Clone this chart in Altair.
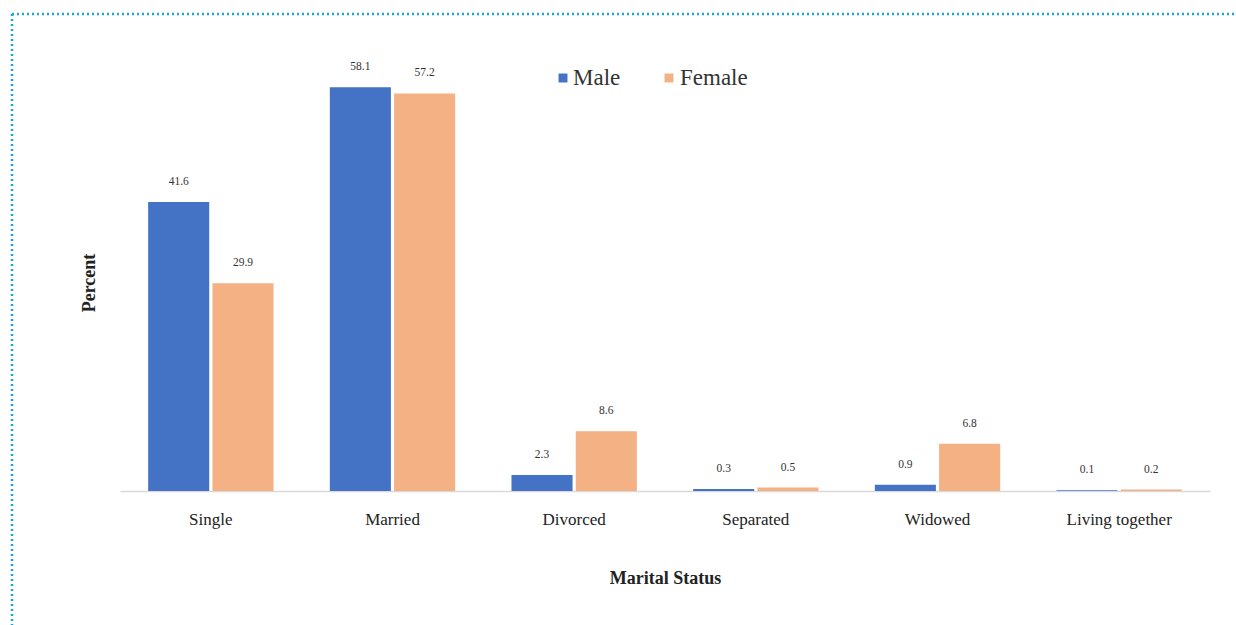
import altair as alt
import pandas as pd

categories = ["Single", "Married", "Divorced", "Separated", "Widowed", "Living together"]
male = [41.6, 58.1, 2.3, 0.3, 0.9, 0.1]
female = [29.9, 57.2, 8.6, 0.5, 6.8, 0.2]
groups = ["Male", "Female"]
colors = ["#4472C4", "#F4B183"]

rows = []
for c, m, f in zip(categories, male, female):
    rows.append({"status": c, "sex": "Male", "value": m})
    rows.append({"status": c, "sex": "Female", "value": f})
df = pd.DataFrame(rows)

FONT = "Liberation Serif"

x_enc = alt.X("status:N", sort=categories, title="Marital Status",
              scale=alt.Scale(paddingInner=0.31, paddingOuter=0.155),
              axis=alt.Axis(labelAngle=0, labelFontSize=17, labelFont=FONT, labelColor="#222",
                            labelPadding=20, titleFontSize=18, titleFont=FONT, titleFontWeight="bold",
                            titleColor="#222", titlePadding=42, ticks=False,
                            domainColor="#d9d9d9", domainWidth=1.5))
xo = alt.XOffset("sex:N", sort=groups, scale=alt.Scale(paddingInner=0.05))
y_enc = alt.Y("value:Q", scale=alt.Scale(domain=[0, 60], nice=False),
              axis=alt.Axis(title="Percent", labels=False, ticks=False, domain=False, grid=False,
                            titleFont=FONT, titleFontSize=18, titleFontWeight="bold",
                            titleColor="#222", titlePadding=22))

base = alt.Chart(df)
bars = base.mark_bar().encode(
    x=x_enc, xOffset=xo, y=y_enc,
    color=alt.Color("sex:N", sort=groups, scale=alt.Scale(domain=groups, range=colors),
                    legend=None),
)
labels = base.mark_text(baseline="bottom", dy=-15, font=FONT, fontSize=11.5, color="#333").encode(
    x=alt.X("status:N", sort=categories), xOffset=xo, y="value:Q",
    text=alt.Text("value:Q", format=".1f"),
)

# manual legend (serif labels), one row each so nothing is overdrawn
legend_layers = []
legend_pos = [(443, 453), (549, 560)]
for g, col, (sx, tx) in zip(groups, colors, legend_pos):
    one = pd.DataFrame({"g": [g]})
    legend_layers.append(alt.Chart(one).mark_square(size=80, color=col, opacity=1).encode(
        x=alt.value(sx), y=alt.value(4)))
    legend_layers.append(alt.Chart(one).mark_text(font=FONT, fontSize=23, color="#333",
                                                  align="left", baseline="middle").encode(
        x=alt.value(tx), y=alt.value(4), text="g:N"))

border_color = "#1AA3DD"
one_row = pd.DataFrame({"b": [0]})
top_border = alt.Chart(one_row).mark_rule(strokeDash=[2, 3], strokeWidth=2.5, color=border_color).encode(
    x=alt.value(-108), x2=alt.value(1116), y=alt.value(-60))
left_border = alt.Chart(one_row).mark_rule(strokeDash=[2, 3], strokeWidth=2.5, color=border_color).encode(
    x=alt.value(-108), y=alt.value(-60), y2=alt.value(551))

chart = alt.layer(bars, labels, *legend_layers, top_border, left_border).properties(
    width=1090, height=417,
    autosize=alt.AutoSizeParams(type="none"),
    padding={"left": 120, "right": 26, "top": 74, "bottom": 134},
    background="white",
).configure_view(stroke=None, strokeWidth=0)

chart.save("out.html", embed_options={"renderer": "svg", "actions": False})
